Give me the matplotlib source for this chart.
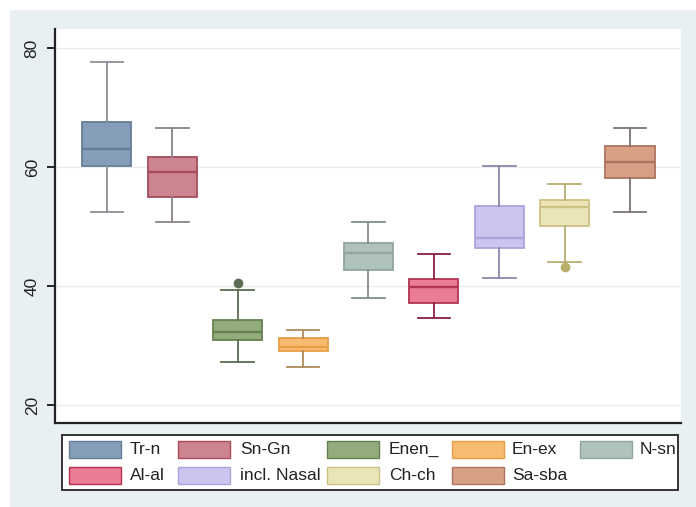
import matplotlib
matplotlib.use("Agg")
import matplotlib.pyplot as plt
from matplotlib.patches import Rectangle

plt.rcParams['font.family'] = ['Liberation Sans', 'DejaVu Sans']

# ---- data ----
labels = ["Tr-n", "Sn-Gn", "Enen_", "En-ex", "N-sn", "Al-al", "incl. Nasal", "Ch-ch", "Sa-sba"]
whis_hi = [77.7, 66.6, 39.3, 32.6, 50.8, 45.4, 60.2, 57.2, 66.6]
q3      = [67.6, 61.6, 34.3, 31.3, 47.2, 41.1, 53.5, 54.5, 63.6]
median  = [63.0, 59.2, 32.2, 29.8, 45.5, 39.8, 48.1, 53.2, 60.9]
q1      = [60.2, 55.0, 30.9, 29.0, 42.7, 37.2, 46.4, 50.0, 58.2]
whis_lo = [52.5, 50.8, 27.3, 26.3, 37.9, 34.6, 41.4, 44.0, 52.5]
outliers = [[], [], [40.5], [], [], [], [], [43.2], []]
yticks = [20, 40, 60, 80]

# ---- styles ----
fills = ["#859db9", "#cc858f", "#94ac7d", "#f7bb72", "#afc2bb",
         "#ea7c94", "#ccc5f0", "#eae4b8", "#d8a186"]
edges = ["#637c97", "#a64c5d", "#65814f", "#e99e44", "#91a59d",
         "#b23452", "#aca2dc", "#cdc284", "#aa745e"]
whisk = ["#8a8f96", "#8a8488", "#5d6c52", "#b08a5a", "#7f8e88",
         "#8a2040", "#8c86aa", "#b8ae6c", "#7c7272"]

BG = "#e9f0f2"
fig = plt.figure(figsize=(6.96, 5.07), dpi=100, facecolor=BG)
W, H = 696, 507
# white strips at top/left edge of the image
fig.patches.append(Rectangle((0, 1 - 10 / H), 1, 10 / H, transform=fig.transFigure,
                             facecolor="white", edgecolor="none", zorder=0))
fig.patches.append(Rectangle((0, 0), 10 / W, 1, transform=fig.transFigure,
                             facecolor="white", edgecolor="none", zorder=0))

ax = fig.add_axes([55 / W, (H - 423) / H, (681 - 55) / W, (423 - 29) / H])
ax.set_facecolor("white")

positions = list(range(1, len(labels) + 1))
stats = []
for i in range(len(labels)):
    stats.append(dict(med=median[i], q1=q1[i], q3=q3[i], whislo=whis_lo[i],
                      whishi=whis_hi[i], fliers=outliers[i], label=labels[i]))

for i, st in enumerate(stats):
    ax.bxp([st], positions=[positions[i]], widths=0.75, capwidths=0.5,
           patch_artist=True, showfliers=True,
           boxprops=dict(facecolor=fills[i], edgecolor=edges[i], linewidth=1.3),
           medianprops=dict(color=edges[i], linewidth=1.7),
           whiskerprops=dict(color=whisk[i], linewidth=1.3),
           capprops=dict(color=whisk[i], linewidth=1.3),
           flierprops=dict(marker="o", markerfacecolor=whisk[i], markeredgecolor=whisk[i],
                           markersize=6, linestyle="none"),
           manage_ticks=False)

ax.set_xlim(0.205, 9.78)
ax.set_ylim(16.97, 83.19)
ax.set_yticks(yticks)
ax.set_yticklabels([str(t) for t in yticks], rotation=90, va="center", fontsize=12.5, color="#222222")
ax.set_xticks([])
ax.grid(axis="y", color="#ececec", linewidth=1.0)
ax.set_axisbelow(True)
for s in ["top", "right"]:
    ax.spines[s].set_visible(False)
for s in ["left", "bottom"]:
    ax.spines[s].set_color("#222222")
    ax.spines[s].set_linewidth(1.6)
ax.tick_params(axis="y", length=6, width=1.4, color="#222222", pad=5)

# ---- legend (manually laid out like the Stata legend) ----
lx0, lx1, ly0, ly1 = 62, 678, 435, 490
fig.patches.append(Rectangle((lx0 / W, 1 - ly1 / H), (lx1 - lx0) / W, (ly1 - ly0) / H,
                             transform=fig.transFigure, facecolor="white",
                             edgecolor="#333333", linewidth=1.4, zorder=1))
col_sw = [69, 178, 327, 452, 580]
col_tx = [130, 240, 389, 512, 640]
row_y = [449.5, 475.5]
sw_w, sw_h = 52, 17
for i, lab in enumerate(labels):
    r, c = divmod(i, 5)
    x = col_sw[c]
    yc = row_y[r]
    fig.patches.append(Rectangle((x / W, 1 - (yc + sw_h / 2) / H), sw_w / W, sw_h / H,
                                 transform=fig.transFigure, facecolor=fills[i],
                                 edgecolor=edges[i], linewidth=1.0, zorder=2))
    fig.text(col_tx[c] / W, 1 - yc / H, lab, ha="left", va="center",
             fontsize=12.5, color="#222222", zorder=3)

fig.savefig("out.png", dpi=100, facecolor=BG)
